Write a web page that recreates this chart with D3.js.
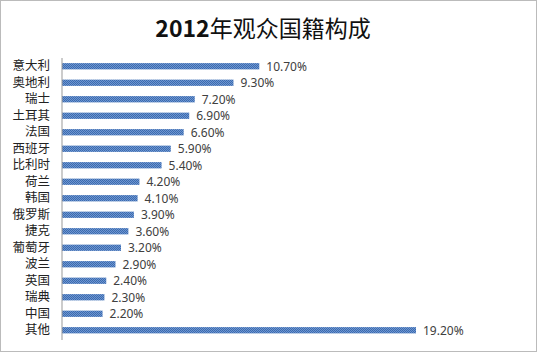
<!DOCTYPE html>
<html>
<head>
<meta charset="utf-8">
<script src="https://cdn.jsdelivr.net/npm/d3@7"></script>
<style>
  body { margin: 0; background: #fff; }
  svg { display: block; }
</style>
</head>
<body>
<div id="chart"></div>
<script>
// chart values
const countries = ["意大利", "奥地利", "瑞士", "土耳其", "法国", "西班牙", "比利时", "荷兰", "韩国",
    "俄罗斯", "捷克", "葡萄牙", "波兰", "英国", "瑞典", "中国", "其他"];
const shares = [10.7, 9.3, 7.2, 6.9, 6.6, 5.9, 5.4, 4.2, 4.1, 3.9, 3.6, 3.2, 2.9, 2.4, 2.3, 2.2, 19.2];
const titleYear = "2012";
const titleRest = "年观众国籍构成";

const width = 539;
const height = 354;
const axisX = 62;

const svg = d3.select("#chart").append("svg")
    .attr("width", width)
    .attr("height", height);

// dotted frame
svg.append("rect")
    .attr("x", 0.5).attr("y", 0.5)
    .attr("width", width - 3).attr("height", height - 3)
    .attr("fill", "#fff")
    .attr("stroke", "#777")
    .attr("stroke-dasharray", "1,1");

// dithered bar fill
const defs = svg.append("defs");
const pat = defs.append("pattern")
    .attr("id", "dither")
    .attr("width", 2).attr("height", 2)
    .attr("patternUnits", "userSpaceOnUse");
pat.append("rect").attr("width", 2).attr("height", 2).attr("fill", "#6f95cf");
pat.append("rect").attr("width", 1).attr("height", 1).attr("fill", "#3a6bb0");
pat.append("rect").attr("x", 1).attr("y", 1).attr("width", 1).attr("height", 1).attr("fill", "#3a6bb0");

const t = svg.append("text")
    .attr("x", 263)
    .attr("y", 37)
    .attr("text-anchor", "middle")
    .attr("fill", "#111")
    .style("font-family", "'Noto Sans CJK SC', sans-serif")
    .style("font-size", "23px");
t.append("tspan").style("font-weight", "bold").text(titleYear);
t.append("tspan").style("font-weight", "normal").text(titleRest);

const x = d3.scaleLinear().domain([0, 19.2]).range([axisX, 416]);
const y = d3.scaleBand().domain(countries).range([58, 338.5]).paddingInner(0.62).paddingOuter(0.31);

svg.selectAll("rect.bar")
    .data(countries)
    .enter()
    .append("rect")
    .attr("class", "bar")
    .attr("x", axisX)
    .attr("y", d => y(d))
    .attr("width", (d, i) => x(shares[i]) - axisX)
    .attr("height", y.bandwidth())
    .attr("fill", "url(#dither)");

// category axis
const yAxis = d3.axisLeft(y).tickSize(0).tickPadding(12);
const g = svg.append("g")
    .attr("transform", `translate(${axisX},0)`)
    .call(yAxis);
g.select(".domain").attr("stroke", "#999").attr("d", "M0,58V340");
g.selectAll("text")
    .attr("fill", "#222")
    .style("font-family", "'Noto Sans CJK SC', sans-serif")
    .style("font-size", "12.5px");

// value labels
svg.selectAll("text.val")
    .data(countries)
    .enter()
    .append("text")
    .attr("class", "val")
    .attr("x", (d, i) => x(shares[i]) + 7)
    .attr("y", d => y(d) + y.bandwidth() / 2)
    .attr("dy", "0.36em")
    .attr("fill", "#404040")
    .style("font-family", "'Noto Sans', sans-serif")
    .style("font-size", "12px")
    .text((d, i) => shares[i].toFixed(2) + "%");
</script>
</body>
</html>
